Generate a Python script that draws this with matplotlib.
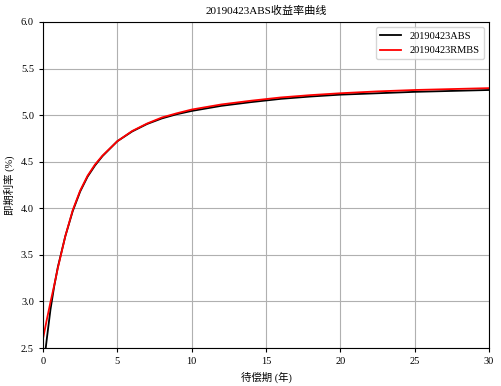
import matplotlib
matplotlib.use("Agg")
import matplotlib.pyplot as plt

plt.rcParams['font.family'] = ['Liberation Serif', 'Noto Sans CJK SC']
plt.rcParams['axes.unicode_minus'] = False

maturity = [0, 0.25, 0.5, 0.75, 1.0, 1.5, 2.0, 2.5, 3.0, 3.5, 4.0, 5, 6, 7, 8, 9, 10,
            12, 14, 16, 18, 20, 22.5, 25, 27.5, 30]
abs_rate = [2.25, 2.59, 2.91, 3.16, 3.37, 3.70, 3.97, 4.18, 4.34, 4.46, 4.56, 4.72,
            4.825, 4.905, 4.965, 5.01, 5.045, 5.10, 5.14, 5.175, 5.20, 5.22, 5.235,
            5.25, 5.26, 5.27]
rmbs_rate = [2.60, 2.80, 2.99, 3.17, 3.36, 3.70, 3.98, 4.19, 4.35, 4.47, 4.565, 4.72,
             4.83, 4.91, 4.975, 5.02, 5.06, 5.115, 5.155, 5.19, 5.215, 5.235, 5.255,
             5.27, 5.28, 5.29]
labels = ['20190423ABS', '20190423RMBS']
title = '20190423ABS收益率曲线'
xlabel = '待偿期 (年)'
ylabel = '即期利率 (%)'

fig = plt.figure(figsize=(5.01, 3.86), dpi=100)
ax = fig.add_axes([43/501, 1-348/386, (489-43)/501, (348-22)/386])
ax.plot(maturity, abs_rate, color='black', lw=1.3, label=labels[0])
ax.plot(maturity, rmbs_rate, color='red', lw=1.3, label=labels[1])
ax.set_xlim(0, 30)
ax.set_ylim(2.5, 6.0)
ax.set_xticks([0, 5, 10, 15, 20, 25, 30])
ax.set_yticks([2.5, 3.0, 3.5, 4.0, 4.5, 5.0, 5.5, 6.0])
ax.yaxis.set_major_formatter(matplotlib.ticker.FormatStrFormatter('%.1f'))
ax.grid(True, color='#b0b0b0', lw=0.8)
ax.tick_params(labelsize=7.5, length=3)
ax.set_title(title, fontsize=8)
ax.set_xlabel(xlabel, fontsize=7.5)
ax.set_ylabel(ylabel, fontsize=7.5)
ax.legend(loc='upper right', fontsize=7.5)
fig.savefig('out.png', dpi=100)
